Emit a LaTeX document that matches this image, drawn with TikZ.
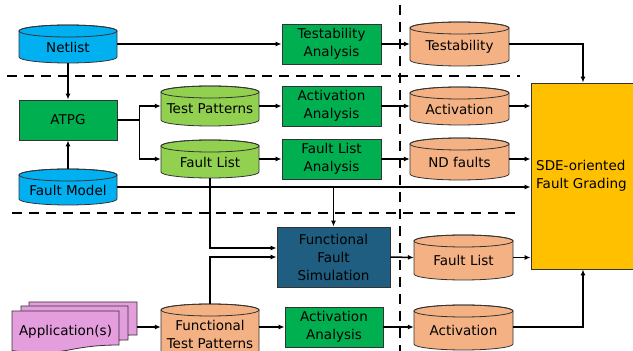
\documentclass[tikz,border=0pt]{standalone}
\usepackage{fontspec}
\setmainfont{DejaVu Sans}
\usetikzlibrary{arrows.meta}
\definecolor{cyanb}{HTML}{00B0F0}
\definecolor{greenb}{HTML}{00B050}
\definecolor{lgreen}{HTML}{92D050}
\definecolor{salmonb}{HTML}{F4B183}
\definecolor{goldb}{HTML}{FFC000}
\definecolor{navyb}{HTML}{1F5E80}
\definecolor{orchidb}{HTML}{E59EDD}
\tikzset{
  shapeline/.style={draw=black!80, line width=0.8pt},
  txt/.style={inner sep=0pt, align=center, font=\fontsize{13.5}{18}\selectfont},
  boxnode/.style={shapeline, rectangle, inner sep=0pt, align=center, font=\fontsize{13.5}{18}\selectfont},
  anchorbox/.style={rectangle, inner sep=0pt, draw=none},
  conn/.style={line width=1.5pt, -{Latex[length=6pt,width=5pt]}},
  plainline/.style={line width=1.5pt},
  divider/.style={line width=2.8pt, dash pattern=on 10pt off 7pt},
}
% name, x1, x2, ybot, ytop, fill, text
\newcommand\dbcyl[7]{%
  \pgfmathsetmacro\cylrx{(#3-#2)/2}%
  \pgfmathsetmacro\cylcx{(#2+#3)/2}%
  \pgfmathsetmacro\cylcy{(#4+#5)/2}%
  \pgfmathsetmacro\cylw{#3-#2}%
  \pgfmathsetmacro\cylh{#5-#4}%
  \path[shapeline, fill=#6] (#2,#5-6) -- (#2,#4+6)
     arc[start angle=180, end angle=360, x radius=\cylrx pt, y radius=6pt]
     -- (#3,#5-6)
     arc[start angle=0, end angle=180, x radius=\cylrx pt, y radius=6pt] -- cycle;
  \path[shapeline] (\cylcx,#5-6) ellipse[x radius=\cylrx pt, y radius=6pt];
  \node[anchorbox, minimum width=\cylw pt, minimum height=\cylh pt] (#1) at (\cylcx,\cylcy) {};
  \node[txt] (#1-t) at (\cylcx,\cylcy-3) {#7};
}
\begin{document}
\begin{tikzpicture}[x=1pt,y=1pt]
\useasboundingbox (0,0) rectangle (633,351);
\clip (0,0) rectangle (633,351);

% dividers
\draw[divider] (7,275) -- (520,275);
\draw[divider] (12,138) -- (518,138);
\draw[divider] (400,346) -- (400,-5);

% boxes
\node[boxnode, fill=greenb, minimum width=99pt, minimum height=40pt] (ta) at (331.5,307) {Testability\\Analysis};
\node[boxnode, fill=greenb, minimum width=98pt, minimum height=40pt] (atpg) at (68,231) {ATPG};
\node[boxnode, fill=greenb, minimum width=99pt, minimum height=40pt] (aa1) at (331.5,245) {Activation\\Analysis};
\node[boxnode, fill=greenb, minimum width=99pt, minimum height=40pt] (fla) at (331.5,192) {Fault List\\Analysis};
\node[boxnode, fill=navyb, minimum width=113pt, minimum height=60pt] (ffs) at (333.5,94) {Functional\\Fault\\Simulation};
\node[boxnode, fill=greenb, minimum width=98pt, minimum height=40pt] (aa2) at (334,24) {Activation\\Analysis};
\node[boxnode, fill=goldb, minimum width=104pt, minimum height=186pt] (sde) at (583,175) {};
\node[txt, anchor=west, align=left] (sde-t) at (536,175) {SDE-oriented\\Fault Grading};

% cylinders
\dbcyl{net}{19}{117}{288}{326}{cyanb}{Netlist}
\dbcyl{fm}{19}{117}{146}{182}{cyanb}{Fault Model}
\dbcyl{tp}{161}{259}{225}{265}{lgreen}{Test Patterns}
\dbcyl{fl}{161}{259}{173}{211}{lgreen}{Fault List}
\dbcyl{testab}{410}{509}{285}{329}{salmonb}{Testability}
\dbcyl{act1}{410}{509}{226}{264}{salmonb}{Activation}
\dbcyl{nd}{410}{509}{171}{213}{salmonb}{ND faults}
\dbcyl{fl2}{414}{513}{71}{116}{salmonb}{Fault List}
\dbcyl{act2}{414}{513}{1}{46}{salmonb}{Activation}
\dbcyl{ftp}{161}{259}{-8}{47}{salmonb}{Functional\\Test Patterns}

% application(s)
\path[shapeline, fill=orchidb] (29,49) -- (137,49) -- (137,16) .. controls (83,16) and (83,3) .. (29,9.4) -- cycle;
\path[shapeline, fill=orchidb] (21,45) -- (128,45) -- (128,11) .. controls (74.5,11) and (74.5,-2) .. (21,5.4) -- cycle;
\path[shapeline, fill=orchidb] (12,40) -- (119,40) -- (119,6) .. controls (65.5,6) and (65.5,-7) .. (12,0.4) -- cycle;
\node[anchorbox, minimum width=108pt, minimum height=33pt] (appback) at (83,32.5) {};
\node[txt] (app) at (65.5,19) {Application(s)};
\coordinate (row) at (0,24);

% connectors
\draw[conn] (net.east) -- (ta.west);
\draw[conn] (ta.east) -- (testab.west);
\draw[conn] (testab.east) -| (sde.north);
\draw[conn] (net.south) -- (atpg.north);
\draw[conn] (fm.north) -- (atpg.south);
\draw[plainline] (atpg.east) -- ++(22,0) coordinate (br);
\draw[conn] (br) |- (tp.west);
\draw[conn] (br) |- (fl.west);
\draw[conn] (tp.east) -- (aa1.west);
\draw[conn] (aa1.east) -- (act1.west);
\draw[conn] (act1.east) -- (act1.east -| sde.west);
\draw[conn] (fl.east) -- (fla.west);
\draw[conn] (fla.east) -- (nd.west);
\draw[conn] (nd.east) -- (nd.east -| sde.west);
\draw[conn] (fm.east) -- (fm.east -| sde.west);
\draw[conn] (ffs.north |- fm.east) -- (ffs.north);
\draw[conn] (fl.south) |- ([yshift=9pt]ffs.west);
\draw[conn] (ftp.north) |- (ffs.west);
\draw[conn] (ffs.east) -- (fl2.west);
\draw[conn] (fl2.east) -- (fl2.east -| sde.west);
\draw[conn] (appback.east |- row) -- (ftp.west |- row);
\draw[conn] (ftp.east |- row) -- (aa2.west |- row);
\draw[conn] (aa2.east |- row) -- (act2.west |- row);
\draw[conn] (act2.east |- row) -| (sde.south);
\end{tikzpicture}
\end{document}
